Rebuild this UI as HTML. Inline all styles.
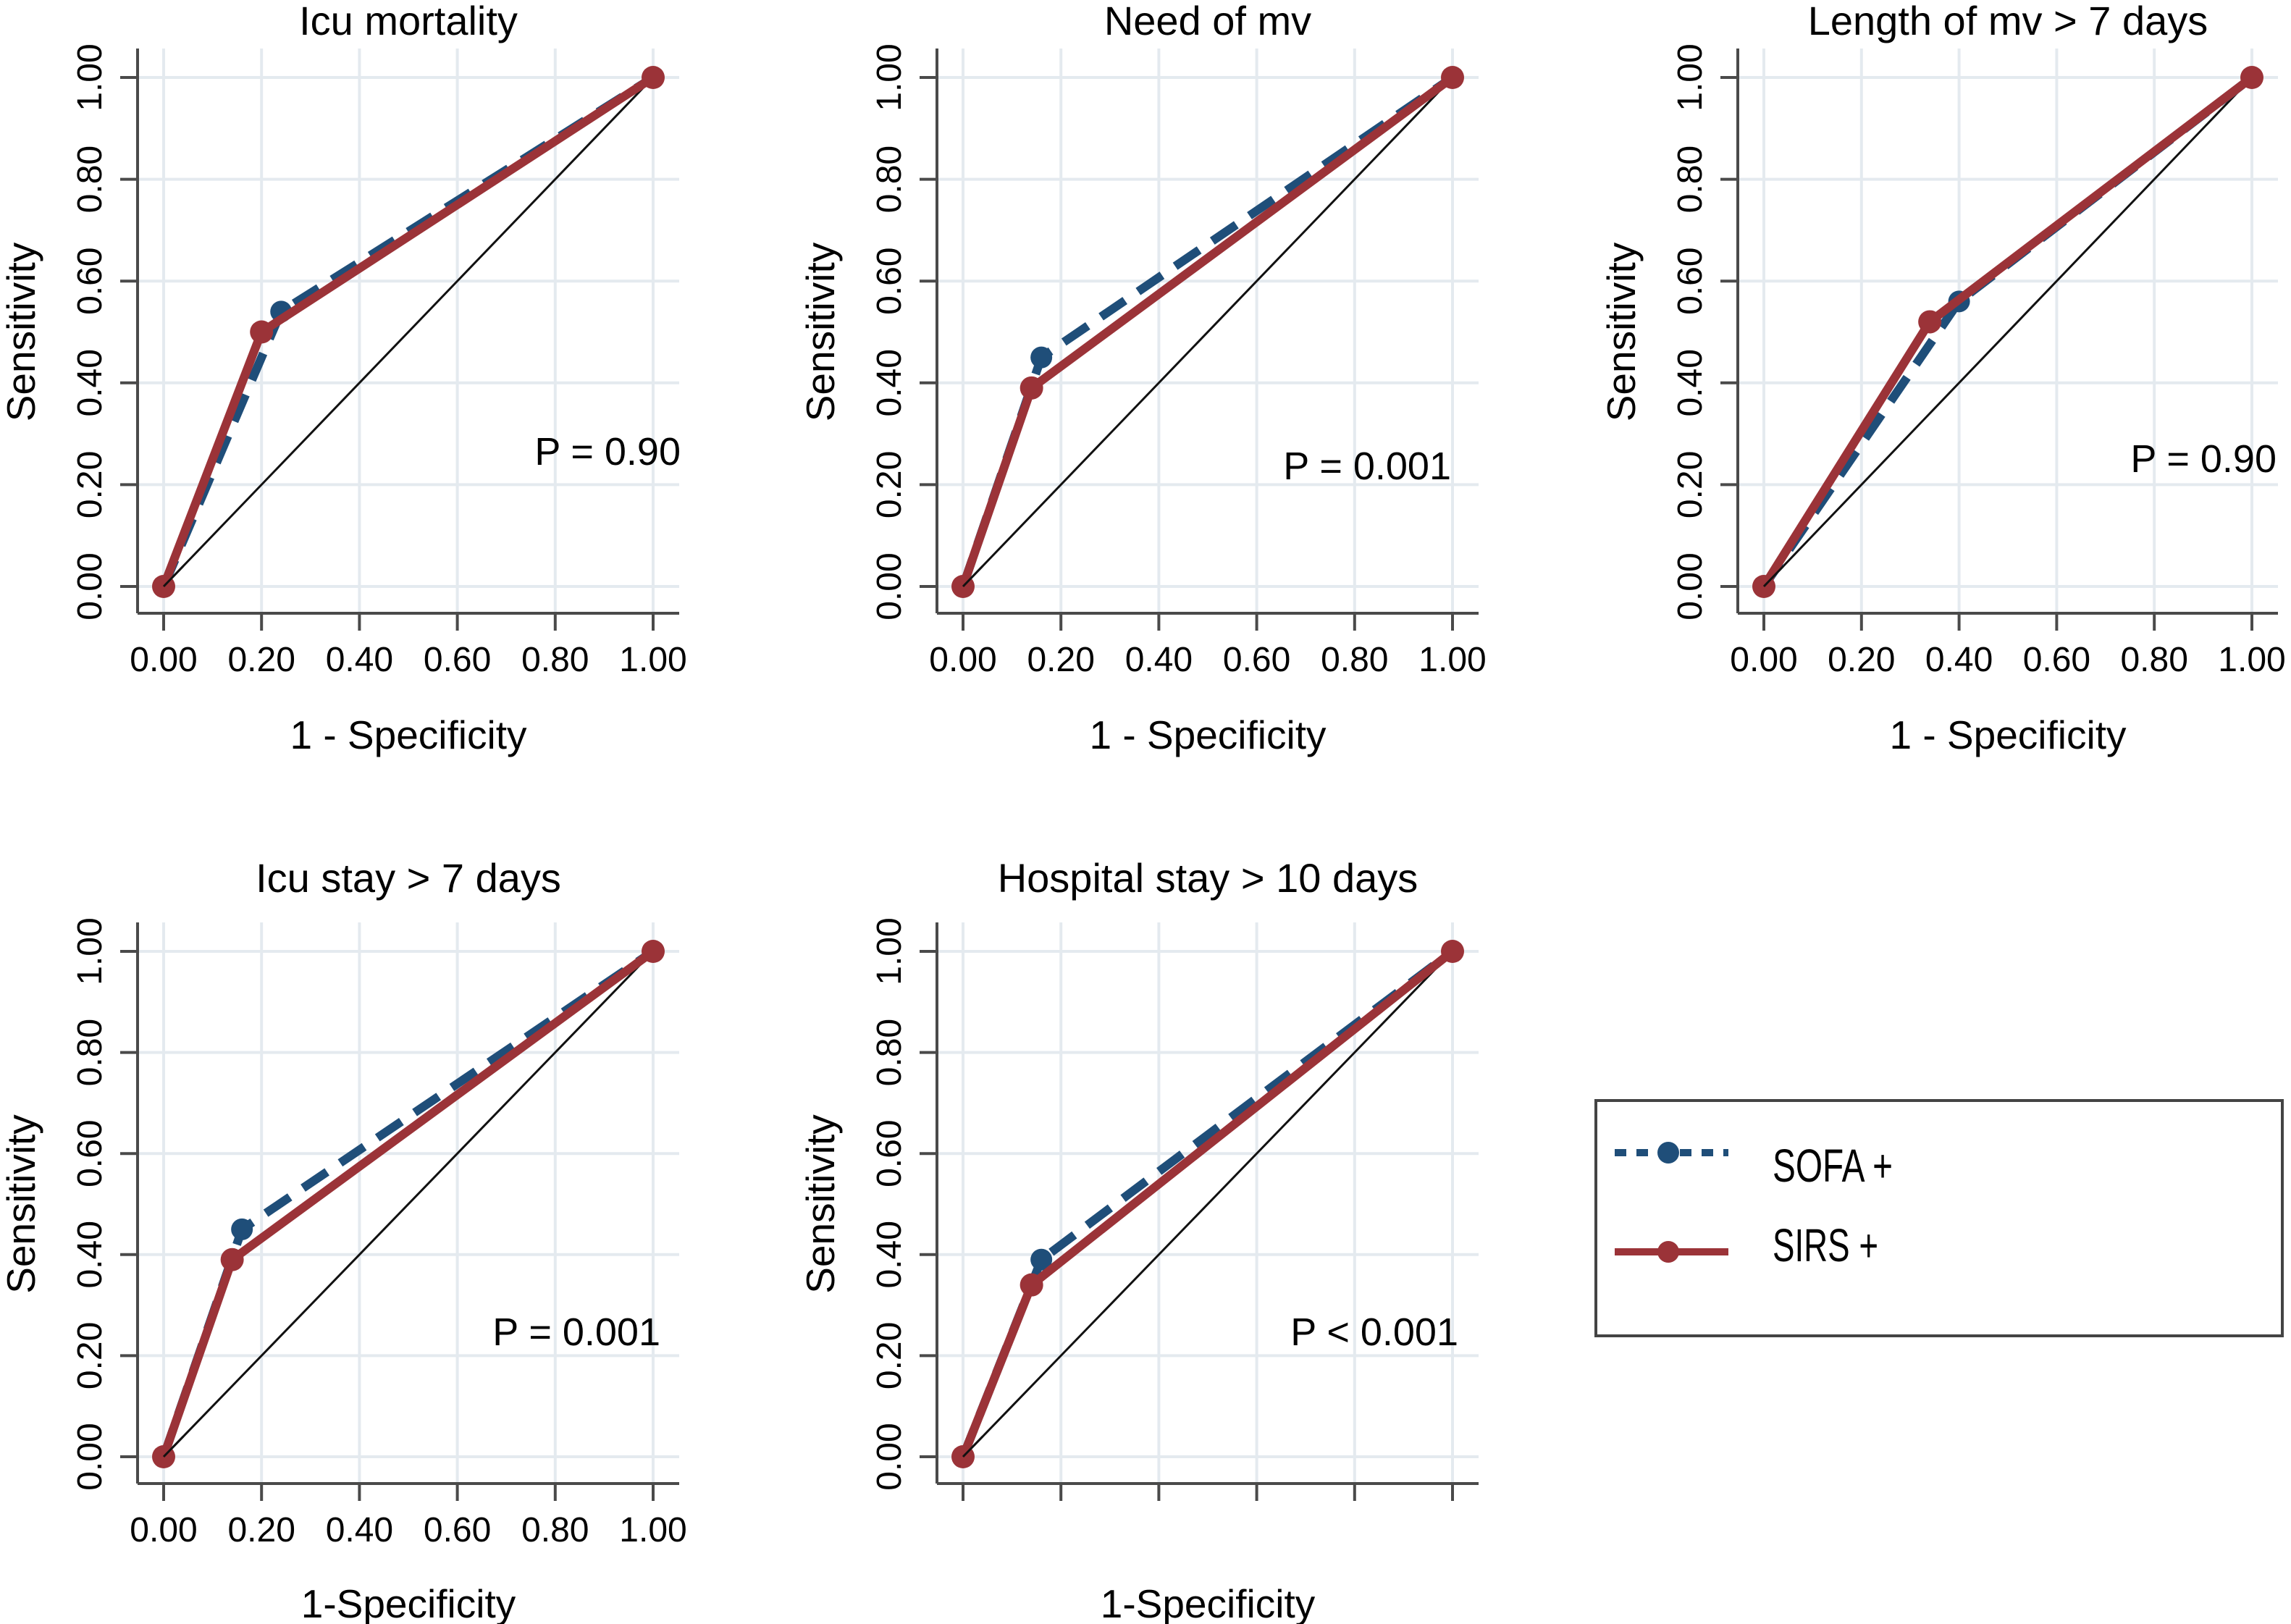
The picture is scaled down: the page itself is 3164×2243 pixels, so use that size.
<!DOCTYPE html>
<html><head><meta charset="utf-8">
<style>
html,body{margin:0;padding:0;background:#fff;}
svg{display:block;font-family:"Liberation Sans",Arial,sans-serif;}
</style></head>
<body>
<svg id="chart" width="3164" height="2243" viewBox="0 0 3164 2243" xmlns="http://www.w3.org/2000/svg">
  <g>
    <rect x="2204" y="1520" width="948" height="325" fill="#fff" stroke="#444" stroke-width="4"/>
    <g>
      <line x1="2230" y1="1592" x2="2387" y2="1592" stroke="#1f4e79" stroke-width="10" stroke-dasharray="16,14"/>
      <circle cx="2304" cy="1592" r="15" fill="#1f4e79"/>
      <text x="2448" y="1632" font-size="64" textLength="166" lengthAdjust="spacingAndGlyphs" fill="#000">SOFA +</text>
    </g>
    <g>
      <line x1="2230" y1="1729" x2="2387" y2="1729" stroke="#9b3338" stroke-width="10"/>
      <circle cx="2304" cy="1729" r="15" fill="#9b3338"/>
      <text x="2448" y="1742" font-size="64" textLength="146" lengthAdjust="spacingAndGlyphs" fill="#000">SIRS +</text>
    </g>
  </g>
</svg>
<script>
const panelTitles = ["Icu mortality","Need of mv","Length of mv > 7 days","Icu stay > 7 days","Hospital stay > 10 days"];
const xAxisTitles = ["1 - Specificity","1 - Specificity","1 - Specificity","1-Specificity","1-Specificity"];
const pLabels = ["P = 0.90","P = 0.001","P = 0.90","P = 0.001","P < 0.001"];
const sofaX = [[0,0.24,1],[0,0.16,1],[0,0.40,1],[0,0.16,1],[0,0.16,1]];
const sofaY = [[0,0.54,1],[0,0.45,1],[0,0.56,1],[0,0.45,1],[0,0.39,1]];
const sirsX = [[0,0.20,1],[0,0.14,1],[0,0.34,1],[0,0.14,1],[0,0.14,1]];
const sirsY = [[0,0.50,1],[0,0.39,1],[0,0.52,1],[0,0.39,1],[0,0.34,1]];
const tickValues = [0,0.2,0.4,0.6,0.8,1];
const tickLabels = ["0.00","0.20","0.40","0.60","0.80","1.00"];
const showXTickLabels = [true,true,true,true,false];

const layout = [
  {x0:226,x1:902,y0:810,y1:107,row:0,px:940,py:642},
  {x0:1330,x1:2006,y0:810,y1:107,row:0,px:2004,py:662},
  {x0:2436,x1:3110,y0:810,y1:107,row:0,px:3144,py:652},
  {x0:226,x1:902,y0:2012,y1:1314,row:1,px:912,py:1858},
  {x0:1330,x1:2006,y0:2012,y1:1314,row:1,px:2014,py:1858}
];
const NS="http://www.w3.org/2000/svg";
const svg=document.getElementById('chart');
function mk(tag,attrs,parent){const e=document.createElementNS(NS,tag);for(const k in attrs)e.setAttribute(k,attrs[k]);parent.appendChild(e);return e;}

layout.forEach((L,i)=>{
  const sx=v=>L.x0+v*(L.x1-L.x0);
  const sy=v=>L.y0+v*(L.y1-L.y0);
  const g=mk('g',{},svg);
  
  
  const axL=L.x0-36, axB=L.y0+37, axT=L.y1-40, axR=L.x1+36;
  tickValues.forEach(t=>{
    const gl=mk('line',{x1:sx(t),y1:axT,x2:sx(t),y2:axB,stroke:'#e4eaef','stroke-width':4},g);
    
    
    const gh=mk('line',{x1:axL,y1:sy(t),x2:axR,y2:sy(t),stroke:'#e4eaef','stroke-width':4},g);
    
    
  });
  const ya=mk('line',{x1:axL,y1:axT,x2:axL,y2:axB,stroke:'#4a4a4a','stroke-width':4},g);
  
  
  const xa=mk('line',{x1:axL,y1:axB,x2:axR,y2:axB,stroke:'#4a4a4a','stroke-width':4},g);
  
  
  tickValues.forEach((t,k)=>{
    mk('line',{x1:sx(t),y1:axB,x2:sx(t),y2:axB+24,stroke:'#4a4a4a','stroke-width':4},g);
    mk('line',{x1:axL-24,y1:sy(t),x2:axL,y2:sy(t),stroke:'#4a4a4a','stroke-width':4},g);
    if(showXTickLabels[i]){
      const tx=mk('text',{x:sx(t),y:axB+80,'font-size':48,'text-anchor':'middle',fill:'#000'},g);
      
      
      tx.textContent=tickLabels[k];
    }
    const yx=axL-50, yy=sy(t);
    const ty=mk('text',{x:yx,y:yy,'font-size':48,'text-anchor':'middle',fill:'#000',transform:`rotate(-90 ${yx} ${yy})`},g);
    
    
    ty.textContent=tickLabels[k];
  });
  const cx=(L.x0+L.x1)/2;
  const tt=mk('text',{x:cx,y:L.row===0?48:1232,'font-size':56,'text-anchor':'middle',fill:'#000'},g);
  
  
  tt.textContent=panelTitles[i];
  const xt=mk('text',{x:cx,y:L.row===0?1034:2234,'font-size':55,'text-anchor':'middle',fill:'#000'},g);
  
  
  xt.textContent=xAxisTitles[i];
  const ytx=axL-142, yty=(L.y0+L.y1)/2;
  const yt=mk('text',{x:ytx,y:yty,'font-size':55,'text-anchor':'middle',fill:'#000',transform:`rotate(-90 ${ytx} ${yty})`},g);
  
  
  yt.textContent='Sensitivity';
  const d=mk('line',{x1:sx(0),y1:sy(0),x2:sx(1),y2:sy(1),stroke:'#111','stroke-width':3},g);
  
  
  const sp=sofaX[i].map((v,k)=>sx(v)+','+sy(sofaY[i][k])).join(' ');
  const sl=mk('polyline',{points:sp,fill:'none',stroke:'#1f4e79','stroke-width':12,'stroke-dasharray':'40,22'},g);
  
  
  sofaX[i].forEach((v,k)=>{
    const c=mk('circle',{cx:sx(v),cy:sy(sofaY[i][k]),r:15,fill:'#1f4e79'},g);
    
    
  });
  const rp=sirsX[i].map((v,k)=>sx(v)+','+sy(sirsY[i][k])).join(' ');
  const rl=mk('polyline',{points:rp,fill:'none',stroke:'#9b3338','stroke-width':12,'stroke-linejoin':'round'},g);
  
  
  sirsX[i].forEach((v,k)=>{
    const c=mk('circle',{cx:sx(v),cy:sy(sirsY[i][k]),r:16,fill:'#9b3338'},g);
    
    
  });
  mk('line',{x1:sx(0),y1:sy(0),x2:sx(0.04),y2:sy(0.04),stroke:'#111','stroke-width':3},g);
  const pl=mk('text',{x:L.px,y:L.py,'font-size':54,'text-anchor':'end',fill:'#000'},g);
  
  
  pl.textContent=pLabels[i];
});
</script>
</body></html>
